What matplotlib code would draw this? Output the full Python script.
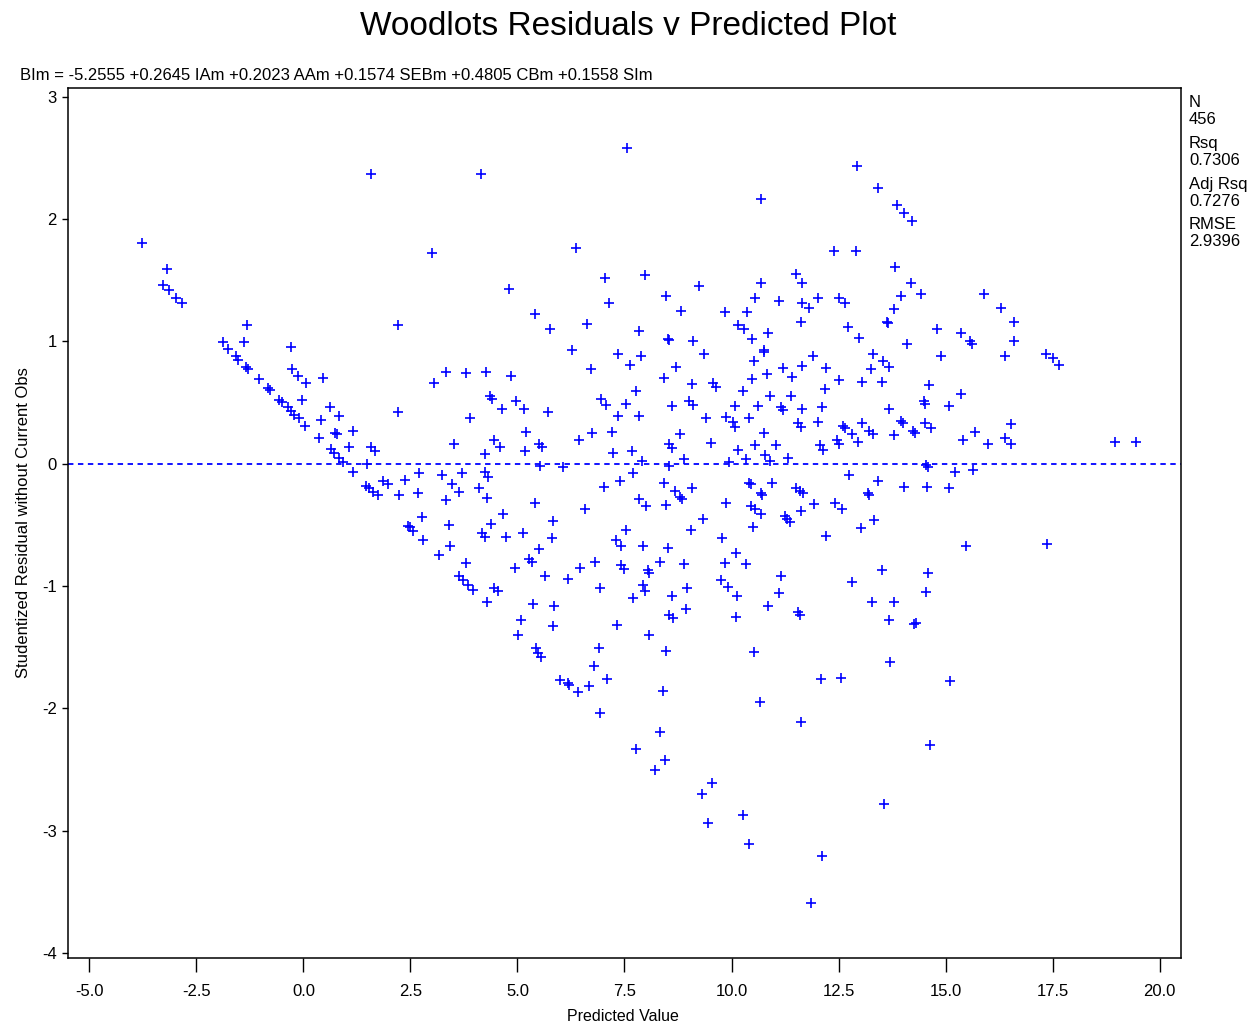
import matplotlib
matplotlib.use('Agg')
import matplotlib.pyplot as plt

# predicted value / studentized residual pairs
pred = [-3.78, -3.19, -3.29, -3.15, -2.97, -2.84, -1.31, 2.20, 3.00, -1.89,
        -1.77, -1.39, -0.30, -1.57, -1.53, -1.34, -1.30, -0.26, -0.12, 0.06,
        0.45, -1.03, -0.83, -0.79, -0.04, -0.56, -0.50, -0.37, -0.29, -0.21,
        -0.11, 0.04, 0.62, 0.83, 0.41, 1.15, 0.36, 0.74, 0.78, 1.07,
        0.65, 0.72, 0.83, 0.93, 1.58, 1.66, 1.49, 1.15, 2.22, 3.33,
        3.04, 3.51, 1.46, 1.54, 1.62, 1.74, 1.85, 1.97, 2.38, 2.24,
        2.71, 2.67, 3.23, 3.47, 3.33, 1.58,
        3.79, 4.27, 4.85, 6.72, 7.34, 7.62, 7.89, 8.71, 8.43, 9.07,
        4.36, 4.41, 4.97, 4.64, 5.16, 5.71, 3.90, 6.96, 7.07, 7.54,
        7.76, 7.34, 7.85, 8.61, 9.00, 9.10, 5.20, 4.46, 4.58, 4.23,
        5.18, 5.51, 5.57, 6.43, 6.74, 7.21, 7.23, 7.67, 8.79, 8.54,
        8.61, 7.90, 8.88, 5.53, 6.06, 8.54, 4.23, 4.31, 3.71, 3.64,
        4.09, 4.29, 7.70, 7.40, 7.03, 8.43, 8.68, 8.79, 8.84, 9.08,
        7.85, 8.01, 8.47, 5.41, 6.57, 4.67, 4.39, 5.84, 3.41, 2.76,
        2.44, 2.49, 2.57, 2.79, 4.17, 4.25, 4.74, 5.12, 5.80, 7.54,
        9.06, 7.29, 7.42, 7.93, 8.51, 3.43, 3.16, 5.51, 3.79, 5.26,
        5.33, 4.94, 6.80, 6.45, 6.18, 5.65, 7.42, 7.48, 8.06, 8.08,
        8.32, 8.89, 3.64, 3.72, 3.84, 3.96, 4.45, 4.54, 4.29, 5.36,
        5.85, 5.09, 5.83, 5.02, 5.44, 6.90, 6.93, 7.93, 7.97, 7.70,
        8.61, 8.96, 8.93, 8.55, 8.63, 7.33, 8.08, 8.47,
        9.35, 10.52, 10.77, 11.90, 13.30, 13.54, 13.69, 14.90, 11.20, 11.41,
        11.64, 10.83, 10.47, 12.21, 13.25, 12.50, 13.04, 13.52, 9.56, 9.63,
        10.26, 12.19, 14.61, 15.35, 10.89, 11.38, 10.09, 10.62, 11.16, 11.20,
        11.65, 12.12, 13.67, 14.49, 14.53, 15.08, 9.41, 9.88, 10.03, 10.09,
        10.41, 11.55, 11.63, 12.02, 12.60, 12.64, 13.04, 13.22, 13.30, 13.97,
        14.00, 14.24, 14.28, 13.80, 14.51, 14.65, 15.70, 15.40, 15.99, 10.76,
        9.51, 10.54, 11.04, 10.15, 10.34, 10.79, 10.89, 11.31, 12.06, 12.13,
        12.47, 12.52, 12.82, 12.95, 9.94, 14.55, 14.59, 15.21, 15.65, 12.74,
        13.42, 14.04, 14.56, 15.08, 10.42, 10.46, 10.94, 10.68, 10.71, 11.51,
        11.59, 11.68, 11.92, 12.41, 12.58, 13.18, 13.22, 9.88, 10.46, 10.54,
        10.68, 11.24, 11.29, 11.37, 11.63, 10.50, 9.33, 9.77, 12.21, 13.03,
        13.34, 15.47, 10.11, 9.85, 10.34, 9.76, 9.92, 10.12, 11.16, 11.10,
        10.85, 10.11, 11.55, 11.60, 12.81, 13.52, 14.59, 14.55, 13.28, 13.79,
        13.69, 14.26, 14.30, 10.52,
        14.02, 14.22, 14.20, 13.96, 14.43, 15.91, 16.30, 16.61, 14.80, 15.35,
        15.58, 15.61, 16.59, 14.10, 16.40, 17.35, 17.51, 17.66, 16.53, 16.38,
        16.52, 18.95, 19.45,
        6.78, 6.00, 6.18, 6.20, 6.41, 6.68, 7.10, 6.92, 8.40, 10.67,
        8.34, 7.76, 8.45, 8.22, 9.54, 9.32, 10.26, 9.46, 10.41, 5.47, 5.55,
        13.71, 12.10, 12.55, 15.11, 11.63, 14.64, 13.56, 12.12, 11.86, 17.36,
        7.55, 4.14, 6.36, 4.81, 7.05, 7.99, 7.13, 8.46, 9.23, 5.41,
        5.77, 6.62, 8.81, 9.85, 10.15, 7.83, 8.51, 8.53, 9.10, 6.27,
        12.93, 10.69, 13.43, 13.87, 12.39, 12.90, 13.83, 11.51, 11.65, 10.68,
        10.55, 11.10, 11.65, 11.80, 12.03, 12.52, 12.66, 13.79, 10.36, 10.30,
        10.47, 10.85, 11.63, 12.72, 12.97, 13.63, 13.65, 10.77]

resid = [1.80, 1.59, 1.46, 1.42, 1.35, 1.31, 1.13, 1.13, 1.72, 0.99,
         0.94, 0.99, 0.95, 0.88, 0.85, 0.79, 0.77, 0.77, 0.72, 0.66,
         0.70, 0.69, 0.62, 0.60, 0.52, 0.52, 0.50, 0.46, 0.43, 0.40,
         0.37, 0.31, 0.46, 0.39, 0.36, 0.27, 0.21, 0.25, 0.24, 0.14,
         0.12, 0.09, 0.05, 0.01, 0.14, 0.10, 0.00, -0.07, 0.42, 0.75,
         0.66, 0.16, -0.18, -0.20, -0.23, -0.26, -0.14, -0.17, -0.13, -0.26,
         -0.08, -0.24, -0.09, -0.17, -0.30, 2.37,
         0.74, 0.75, 0.72, 0.77, 0.90, 0.81, 0.88, 0.79, 0.70, 0.65,
         0.55, 0.53, 0.51, 0.45, 0.45, 0.42, 0.37, 0.53, 0.48, 0.49,
         0.59, 0.39, 0.39, 0.47, 0.51, 0.48, 0.26, 0.19, 0.14, 0.08,
         0.10, 0.16, 0.14, 0.19, 0.25, 0.26, 0.09, 0.10, 0.24, 0.16,
         0.13, 0.02, 0.04, -0.02, -0.03, -0.02, -0.07, -0.11, -0.08, -0.23,
         -0.20, -0.28, -0.08, -0.14, -0.19, -0.16, -0.22, -0.27, -0.29, -0.20,
         -0.29, -0.35, -0.34, -0.32, -0.37, -0.41, -0.49, -0.47, -0.50, -0.44,
         -0.51, -0.52, -0.55, -0.62, -0.57, -0.60, -0.60, -0.57, -0.61, -0.54,
         -0.54, -0.62, -0.67, -0.67, -0.69, -0.67, -0.75, -0.70, -0.81, -0.78,
         -0.80, -0.85, -0.80, -0.85, -0.94, -0.92, -0.83, -0.86, -0.87, -0.89,
         -0.80, -0.82, -0.92, -0.95, -0.99, -1.03, -1.02, -1.04, -1.13, -1.15,
         -1.16, -1.28, -1.33, -1.40, -1.51, -1.51, -1.02, -0.99, -1.04, -1.10,
         -1.08, -1.02, -1.19, -1.24, -1.26, -1.32, -1.40, -1.53,
         0.90, 0.84, 0.91, 0.88, 0.90, 0.84, 0.79, 0.88, 0.78, 0.71,
         0.80, 0.73, 0.69, 0.78, 0.77, 0.68, 0.67, 0.67, 0.66, 0.63,
         0.59, 0.61, 0.64, 0.57, 0.55, 0.55, 0.47, 0.47, 0.46, 0.44,
         0.45, 0.46, 0.45, 0.51, 0.49, 0.47, 0.37, 0.38, 0.34, 0.30,
         0.37, 0.33, 0.30, 0.34, 0.31, 0.29, 0.33, 0.27, 0.24, 0.35,
         0.33, 0.27, 0.25, 0.23, 0.33, 0.29, 0.26, 0.19, 0.16, 0.25,
         0.17, 0.15, 0.15, 0.11, 0.04, 0.07, 0.02, 0.05, 0.15, 0.11,
         0.19, 0.16, 0.24, 0.18, 0.01, -0.01, -0.03, -0.07, -0.05, -0.09,
         -0.14, -0.19, -0.19, -0.20, -0.16, -0.17, -0.16, -0.24, -0.26, -0.20,
         -0.22, -0.24, -0.33, -0.32, -0.37, -0.24, -0.26, -0.32, -0.35, -0.37,
         -0.41, -0.43, -0.45, -0.48, -0.39, -0.52, -0.45, -0.61, -0.59, -0.53,
         -0.46, -0.67, -0.73, -0.81, -0.82, -0.95, -1.01, -1.08, -0.92, -1.06,
         -1.16, -1.25, -1.21, -1.24, -0.97, -0.87, -0.89, -1.05, -1.13, -1.13,
         -1.28, -1.31, -1.30, -1.54,
         2.05, 1.98, 1.48, 1.37, 1.39, 1.39, 1.27, 1.16, 1.10, 1.07,
         1.00, 0.98, 1.00, 0.98, 0.88, 0.90, 0.86, 0.81, 0.32, 0.21,
         0.16, 0.18, 0.18,
         -1.65, -1.77, -1.79, -1.81, -1.87, -1.82, -1.76, -2.04, -1.86, -1.95,
         -2.19, -2.33, -2.42, -2.50, -2.61, -2.70, -2.87, -2.94, -3.11, -1.55, -1.58,
         -1.62, -1.76, -1.75, -1.78, -2.11, -2.30, -2.78, -3.21, -3.59, -0.66,
         2.58, 2.37, 1.76, 1.43, 1.52, 1.54, 1.31, 1.37, 1.45, 1.22,
         1.10, 1.14, 1.25, 1.24, 1.13, 1.08, 1.02, 1.01, 1.00, 0.93,
         2.43, 2.16, 2.25, 2.11, 1.74, 1.74, 1.61, 1.55, 1.48, 1.48,
         1.35, 1.33, 1.31, 1.27, 1.35, 1.35, 1.31, 1.26, 1.24, 1.10,
         1.02, 1.07, 1.16, 1.12, 1.03, 1.16, 1.15, 0.93]

x_ticks = [-5.0, -2.5, 0.0, 2.5, 5.0, 7.5, 10.0, 12.5, 15.0, 17.5, 20.0]
y_ticks = [3, 2, 1, 0, -1, -2, -3, -4]
stats = [('N', '456'), ('Rsq', '0.7306'), ('Adj Rsq', '0.7276'), ('RMSE', '2.9396')]
equation = 'BIm = -5.2555 +0.2645 IAm +0.2023 AAm +0.1574 SEBm +0.4805 CBm +0.1558 SIm'

plt.rcParams['font.family'] = ['Liberation Sans Narrow', 'Liberation Sans', 'DejaVu Sans']

fig = plt.figure(figsize=(12.53, 10.29), dpi=100)
ax = fig.add_axes([0.0543, 0.069, 0.8882, 0.8455])

ax.scatter(pred, resid, marker='+', s=60, color='#0000ff', linewidths=1.2, zorder=3)
ax.axhline(0, color='#0000ff', lw=1.3, ls=(0, (3, 2.5)), zorder=2)

ax.set_xlim(-5.5, 20.5)
ax.set_ylim(-4.04, 3.07)
ax.set_xticks(x_ticks)
ax.set_xticklabels(['%.1f' % v for v in x_ticks])
ax.set_yticks(y_ticks)
ax.set_yticklabels([str(v) for v in y_ticks])
ax.tick_params(axis='x', direction='out', length=10, width=1, pad=9, labelsize=12)
ax.tick_params(axis='y', direction='out', length=4, width=1, pad=4, labelsize=12)
for s in ax.spines.values():
    s.set_linewidth(1.1)

ax.set_ylabel('Studentized Residual without Current Obs', fontsize=12, labelpad=8)
fig.text(0.497, 0.0045, 'Predicted Value', ha='center', va='bottom', fontsize=11.5)

fig.text(0.501, 0.974, 'Woodlots Residuals v Predicted Plot', ha='center', va='center',
         fontsize=24)
fig.text(0.016, 0.927, equation, ha='left', va='center', fontsize=12)

yy = 0.900
for name, val in stats:
    fig.text(0.949, yy, name, ha='left', va='center', fontsize=12)
    fig.text(0.949, yy - 0.0165, val, ha='left', va='center', fontsize=12)
    yy -= 0.0395

fig.savefig('out.png', dpi=100)
